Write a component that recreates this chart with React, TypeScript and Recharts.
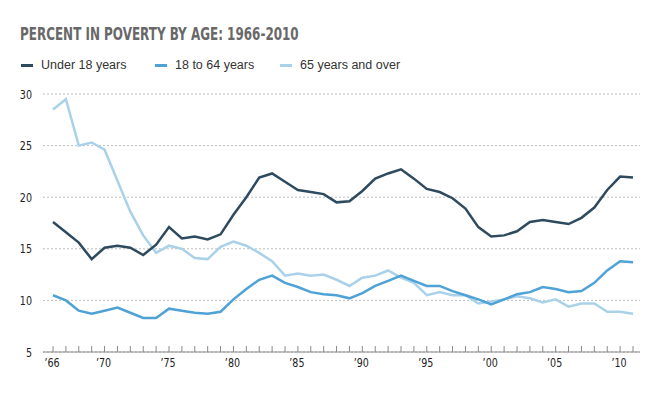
import { CartesianGrid, Line, LineChart, XAxis, YAxis } from "recharts";

const years = [
  1966, 1967, 1968, 1969, 1970, 1971, 1972, 1973, 1974, 1975, 1976, 1977, 1978, 1979, 1980, 1981,
  1982, 1983, 1984, 1985, 1986, 1987, 1988, 1989, 1990, 1991, 1992, 1993, 1994, 1995, 1996, 1997,
  1998, 1999, 2000, 2001, 2002, 2003, 2004, 2005, 2006, 2007, 2008, 2009, 2010, 2011,
];

const under18 = [
  17.6, 16.6, 15.6, 14.0, 15.1, 15.3, 15.1, 14.4, 15.4, 17.1, 16.0, 16.2, 15.9, 16.4, 18.3, 20.0,
  21.9, 22.3, 21.5, 20.7, 20.5, 20.3, 19.5, 19.6, 20.6, 21.8, 22.3, 22.7, 21.8, 20.8, 20.5, 19.9,
  18.9, 17.1, 16.2, 16.3, 16.7, 17.6, 17.8, 17.6, 17.4, 18.0, 19.0, 20.7, 22.0, 21.9,
];

const age18to64 = [
  10.5, 10.0, 9.0, 8.7, 9.0, 9.3, 8.8, 8.3, 8.3, 9.2, 9.0, 8.8, 8.7, 8.9, 10.1, 11.1,
  12.0, 12.4, 11.7, 11.3, 10.8, 10.6, 10.5, 10.2, 10.7, 11.4, 11.9, 12.4, 11.9, 11.4, 11.4, 10.9,
  10.5, 10.1, 9.6, 10.1, 10.6, 10.8, 11.3, 11.1, 10.8, 10.9, 11.7, 12.9, 13.8, 13.7,
];

const age65plus = [
  28.5, 29.5, 25.0, 25.3, 24.6, 21.6, 18.6, 16.3, 14.6, 15.3, 15.0, 14.1, 14.0, 15.2, 15.7, 15.3,
  14.6, 13.8, 12.4, 12.6, 12.4, 12.5, 12.0, 11.4, 12.2, 12.4, 12.9, 12.2, 11.7, 10.5, 10.8, 10.5,
  10.5, 9.7, 9.9, 10.1, 10.4, 10.2, 9.8, 10.1, 9.4, 9.7, 9.7, 8.9, 8.9, 8.7,
];

const yTicks = [5, 10, 15, 20, 25, 30];

const xLabels: Record<number, string> = {
  1966: "\u201966",
  1970: "\u201970",
  1975: "\u201975",
  1980: "\u201980",
  1985: "\u201985",
  1990: "\u201990",
  1995: "\u201995",
  2000: "\u201900",
  2005: "\u201905",
  2010: "\u201910",
};

const series = [
  { key: "age65plus", name: "65 years and over", color: "#a9d2ea" },
  { key: "age18to64", name: "18 to 64 years", color: "#4ea2d6" },
  { key: "under18", name: "Under 18 years", color: "#2d4a5f" },
];

const data = years.map((year, i) => ({
  year,
  under18: under18[i],
  age18to64: age18to64[i],
  age65plus: age65plus[i],
}));

const narrow = "'Liberation Sans Narrow', 'DejaVu Sans Condensed', 'Arial Narrow', sans-serif";
const sans = "'Liberation Sans', Arial, Helvetica, sans-serif";

function XTick(props: any) {
  const { x, y, payload } = props;
  const label = xLabels[payload.value];
  return (
    <g>
      <line x1={x} x2={x} y1={y - 6} y2={y} stroke="#8a8a8a" strokeWidth={1} />
      {label && (
        <text
          transform={`translate(${x - 1},${y + 15}) scale(0.85,1)`}
          textAnchor="middle" fontSize={12.5} fontFamily={narrow} fill="#222"
        >
          {label}
        </text>
      )}
    </g>
  );
}

function YTick(props: any) {
  const { x, y, payload } = props;
  return (
    <text
      transform={`translate(${x},${y}) scale(0.85,1)`}
      dy="0.36em" textAnchor="end" fontSize={12.5} fontFamily={narrow} fill="#222"
    >
      {payload.value}
    </text>
  );
}

const legendItems = [
  { name: "Under 18 years", color: "#2d4a5f", left: 21 },
  { name: "18 to 64 years", color: "#4ea2d6", left: 155 },
  { name: "65 years and over", color: "#a9d2ea", left: 280 },
];

export default function App() {
  return (
    <div style={{ position: "absolute", left: 0, top: 0, width: 660, height: 398, background: "#fff" }}>
      <div
        style={{
          position: "absolute", left: 20, top: 24, fontFamily: narrow, fontWeight: 700,
          fontSize: 17.5, color: "#686868", whiteSpace: "nowrap",
          transform: "scaleX(0.76)", transformOrigin: "0 0",
        }}
      >
        PERCENT IN POVERTY BY AGE: 1966-2010
      </div>
      {legendItems.map((it) => (
        <div key={it.name} style={{ position: "absolute", left: it.left, top: 57, height: 16, display: "flex", alignItems: "center" }}>
          <span style={{ display: "inline-block", width: 12, height: 3, background: it.color, marginRight: 8 }} />
          <span style={{ fontFamily: sans, fontSize: 12.5, color: "#333", whiteSpace: "nowrap" }}>{it.name}</span>
        </div>
      ))}
      <LineChart width={660} height={398} data={data} margin={{ top: 94, right: 20, left: 0, bottom: 16 }}>
        <CartesianGrid vertical={false} stroke="#bdbdbd" strokeDasharray="2 2" />
        <XAxis
          dataKey="year"
          type="number"
          domain={[1966, 2011]}
          ticks={years}
          interval={0}
          padding={{ left: 10, right: 7 }}
          tickLine={false}
          tickSize={0}
          tickMargin={0}
          height={30}
          axisLine={{ stroke: "#8a8a8a" }}
          tick={<XTick />}
        />
        <YAxis
          type="number"
          domain={[5, 30]}
          ticks={yTicks}
          width={43}
          axisLine={false}
          tickLine={false}
          tickMargin={5}
          tick={<YTick />}
        />
        {series.map((s) => (
          <Line
            key={s.key}
            type="linear"
            dataKey={s.key}
            name={s.name}
            stroke={s.color}
            strokeWidth={2.5}
            dot={false}
            isAnimationActive={false}
          />
        ))}
      </LineChart>
    </div>
  );
}
